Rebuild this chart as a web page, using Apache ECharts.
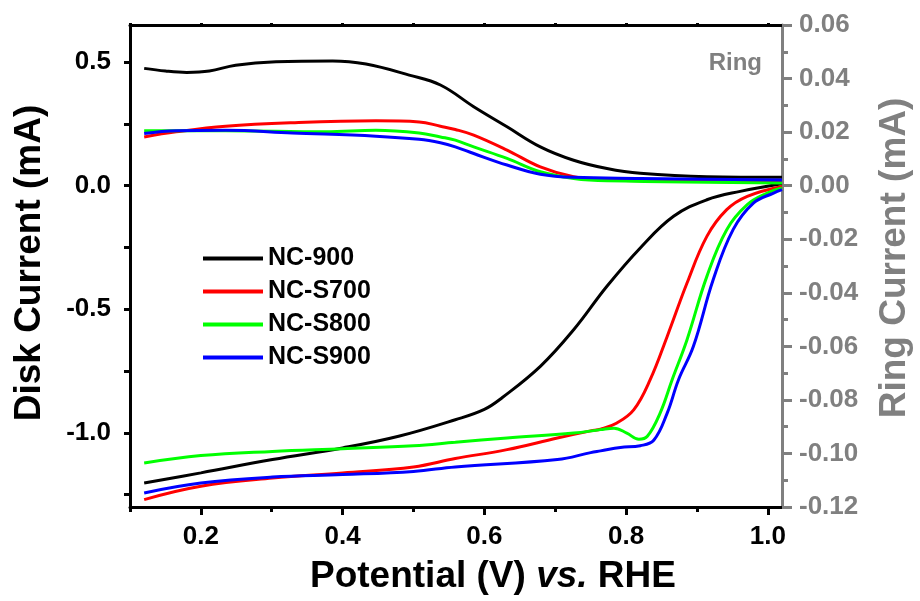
<!DOCTYPE html>
<html>
<head>
<meta charset="utf-8">
<script src="https://cdn.jsdelivr.net/npm/echarts@6/dist/echarts.min.js"></script>
<style>
  html, body { margin: 0; padding: 0; background: #fff; }
  #chart { width: 920px; height: 601px; }
</style>
</head>
<body>
<div id="chart"></div>
<script>
// Sample names (legend order)
const samples = ['NC-900', 'NC-S700', 'NC-S800', 'NC-S900'];
const sampleColors = ['#000000', '#ff0000', '#00ff00', '#0000ff'];

// Axis ticks
const potentialTicks = [0.2, 0.4, 0.6, 0.8, 1.0];
const potentialMinorTicks = [0.1, 0.3, 0.5, 0.7, 0.9];
const diskTicks = [-1.0, -0.5, 0.0, 0.5];
const diskMinorTicks = [-1.25, -0.75, -0.25, 0.25];

// Disk current (mA) vs potential (V vs. RHE)
const nc900DiskV = [0.12, 0.2, 0.301, 0.4, 0.479, 0.559, 0.6, 0.625, 0.679, 0.726, 0.773, 0.82, 0.867, 0.914, 0.961, 1.02];
const nc900DiskI = [-1.203, -1.162, -1.108, -1.061, -1.014, -0.947, -0.905, -0.858, -0.731, -0.583, -0.407, -0.252, -0.124, -0.057, -0.023, 0.008];

const ncS700DiskV = [0.12, 0.2, 0.301, 0.4, 0.5, 0.559, 0.632, 0.703, 0.75, 0.764, 0.787, 0.811, 0.834, 0.858, 0.886, 0.914, 0.942, 0.971, 1.02];
const ncS700DiskI = [-1.27, -1.216, -1.183, -1.162, -1.138, -1.104, -1.068, -1.021, -0.992, -0.985, -0.960, -0.906, -0.785, -0.610, -0.394, -0.205, -0.097, -0.043, -0.003];

const ncS800DiskV = [0.12, 0.2, 0.301, 0.4, 0.5, 0.559, 0.632, 0.726, 0.764, 0.783, 0.801, 0.818, 0.83, 0.848, 0.865, 0.886, 0.914, 0.942, 0.971, 0.999, 1.02];
const ncS800DiskI = [-1.122, -1.092, -1.075, -1.064, -1.052, -1.038, -1.021, -1.001, -0.987, -0.981, -1.001, -1.026, -1.014, -0.920, -0.785, -0.623, -0.367, -0.178, -0.077, -0.030, -0.009];

const ncS900DiskV = [0.12, 0.2, 0.301, 0.4, 0.5, 0.559, 0.703, 0.75, 0.764, 0.792, 0.82, 0.839, 0.858, 0.874, 0.895, 0.923, 0.951, 0.98, 1.008, 1.02];
const ncS900DiskI = [-1.243, -1.203, -1.179, -1.169, -1.156, -1.138, -1.108, -1.08, -1.073, -1.059, -1.052, -1.030, -0.920, -0.785, -0.650, -0.380, -0.178, -0.070, -0.030, -0.016];

// Ring current (mA) vs potential (V vs. RHE)
const nc900RingV = [0.12, 0.15, 0.18, 0.212, 0.249, 0.306, 0.386, 0.433, 0.494, 0.538, 0.585, 0.632, 0.679, 0.726, 0.773, 0.82, 0.914, 1.02];
const nc900RingI = [0.0438, 0.0428, 0.0423, 0.0428, 0.0450, 0.0463, 0.0466, 0.0454, 0.0413, 0.0376, 0.0295, 0.0220, 0.0145, 0.0095, 0.0064, 0.0046, 0.0033, 0.0031];

const ncS700RingV = [0.12, 0.165, 0.235, 0.329, 0.447, 0.508, 0.538, 0.559, 0.585, 0.632, 0.679, 0.726, 0.773, 1.02];
const ncS700RingI = [0.0182, 0.0201, 0.0222, 0.0235, 0.0242, 0.0238, 0.0222, 0.0210, 0.0189, 0.0133, 0.0070, 0.0033, 0.0021, 0.0014];

const ncS800RingV = [0.12, 0.235, 0.376, 0.447, 0.508, 0.538, 0.559, 0.585, 0.632, 0.679, 0.726, 0.773, 1.02];
const ncS800RingI = [0.0205, 0.0205, 0.0201, 0.0207, 0.0197, 0.0182, 0.0170, 0.0145, 0.0102, 0.0052, 0.0027, 0.0018, 0.0010];

const ncS900RingV = [0.12, 0.165, 0.235, 0.329, 0.447, 0.508, 0.538, 0.559, 0.585, 0.632, 0.679, 0.726, 0.82, 1.02];
const ncS900RingI = [0.0195, 0.0205, 0.0207, 0.0197, 0.0185, 0.0173, 0.0160, 0.0145, 0.0120, 0.0077, 0.0043, 0.0031, 0.0027, 0.0021];

const diskSets = [[nc900DiskV, nc900DiskI], [ncS700DiskV, ncS700DiskI], [ncS800DiskV, ncS800DiskI], [ncS900DiskV, ncS900DiskI]];
const ringSets = [[nc900RingV, nc900RingI], [ncS700RingV, ncS700RingI], [ncS800RingV, ncS800RingI], [ncS900RingV, ncS900RingI]];

const FONT = '"Liberation Sans", Arial, Helvetica, sans-serif';
const GREY = '#808080';
const TICK_FONT = 26;

function pairs(xs, ys) { return xs.map((x, i) => [x, ys[i]]); }

const series = [];
samples.forEach((name, k) => {
  const common = {
    name: name,
    type: 'line',
    showSymbol: false,
    symbol: 'none',
    smooth: 0.4,
    lineStyle: { width: 3, color: sampleColors[k] },
    itemStyle: { color: sampleColors[k] },
    z: 3
  };
  series.push(Object.assign({}, common, { yAxisIndex: 1, data: pairs(ringSets[k][0], ringSets[k][1]) }));
  series.push(Object.assign({}, common, { yAxisIndex: 0, data: pairs(diskSets[k][0], diskSets[k][1]) }));
});

const chart = echarts.init(document.getElementById('chart'), null, { renderer: 'canvas' });
chart.setOption({
  animation: false,
  backgroundColor: '#ffffff',
  grid: { left: 130, right: 138, top: 25, bottom: 94, containLabel: false },
  legend: {
    data: samples,
    orient: 'vertical',
    left: 198,
    top: 241,
    icon: 'rect',
    itemWidth: 60,
    itemHeight: 4,
    itemGap: 8,
    textStyle: { fontFamily: FONT, fontWeight: 'bold', fontSize: 25, color: '#000' }
  },
  xAxis: [
    {
      type: 'value', position: 'bottom', min: 0.1, max: 1.02,
      axisLine: { show: true, onZero: false, lineStyle: { color: '#000', width: 3 } },
      axisTick: { show: true, customValues: potentialTicks, length: 8, lineStyle: { color: '#000', width: 3 } },
      axisLabel: { show: true, customValues: potentialTicks, margin: 17, formatter: v => v.toFixed(1),
        fontFamily: FONT, fontWeight: 'bold', fontSize: TICK_FONT, color: '#000' },
      splitLine: { show: false }
    },
    {
      type: 'value', position: 'bottom', min: 0.1, max: 1.02,
      axisLine: { show: false, onZero: false },
      axisTick: { show: true, customValues: potentialMinorTicks, length: 5, lineStyle: { color: '#000', width: 3 } },
      axisLabel: { show: false },
      splitLine: { show: false }
    },
    {
      type: 'value', position: 'top', min: 0.1, max: 1.02,
      axisLine: { show: true, onZero: false, lineStyle: { color: '#000', width: 3 } },
      axisTick: { show: true, customValues: potentialTicks.concat(potentialMinorTicks), length: 2, lineStyle: { color: '#000', width: 3 } },
      axisLabel: { show: false },
      splitLine: { show: false }
    }
  ],
  yAxis: [
    {
      type: 'value', position: 'left', min: -1.3, max: 0.65,
      axisLine: { show: true, onZero: false, lineStyle: { color: '#000', width: 3 } },
      axisTick: { show: true, customValues: diskTicks.concat(diskMinorTicks), length: 6, lineStyle: { color: '#000', width: 3 } },
      axisLabel: { show: true, customValues: diskTicks, margin: 19, formatter: v => v.toFixed(1),
        fontFamily: FONT, fontWeight: 'bold', fontSize: TICK_FONT, color: '#000' },
      splitLine: { show: false }
    },
    {
      type: 'value', position: 'right', min: -0.12, max: 0.06, interval: 0.02,
      axisLine: { show: true, onZero: false, lineStyle: { color: GREY, width: 3 } },
      axisTick: { show: true, length: 10, lineStyle: { color: GREY, width: 3 } },
      minorTick: { show: true, splitNumber: 2, length: 6, lineStyle: { color: GREY, width: 3 } },
      axisLabel: { show: true, margin: 17, formatter: v => v.toFixed(2),
        fontFamily: FONT, fontWeight: 'bold', fontSize: TICK_FONT, color: GREY },
      splitLine: { show: false }
    }
  ],
  graphic: [
    {
      type: 'text', x: 493, y: 577,
      style: {
        text: '{a|Potential (V) }{b|vs.}{a| RHE}',
        align: 'center', verticalAlign: 'middle',
        rich: {
          a: { fontFamily: FONT, fontWeight: 'bold', fontSize: 37, fill: '#000' },
          b: { fontFamily: FONT, fontWeight: 'bold', fontStyle: 'italic', fontSize: 37, fill: '#000' }
        }
      }
    },
    {
      type: 'text', x: 30, y: 263, rotation: Math.PI / 2,
      style: { text: 'Disk Current (mA)', font: 'bold 37px ' + FONT, fill: '#000', align: 'center', verticalAlign: 'middle' }
    },
    {
      type: 'text', x: 895, y: 258, rotation: Math.PI / 2,
      style: { text: 'Ring Current (mA)', font: 'bold 37px ' + FONT, fill: GREY, align: 'center', verticalAlign: 'middle' }
    },
    {
      type: 'text', x: 762, y: 63,
      style: { text: 'Ring', font: 'bold 24px ' + FONT, fill: GREY, align: 'right', verticalAlign: 'middle' }
    }
  ],
  series: series
});
</script>
</body>
</html>
